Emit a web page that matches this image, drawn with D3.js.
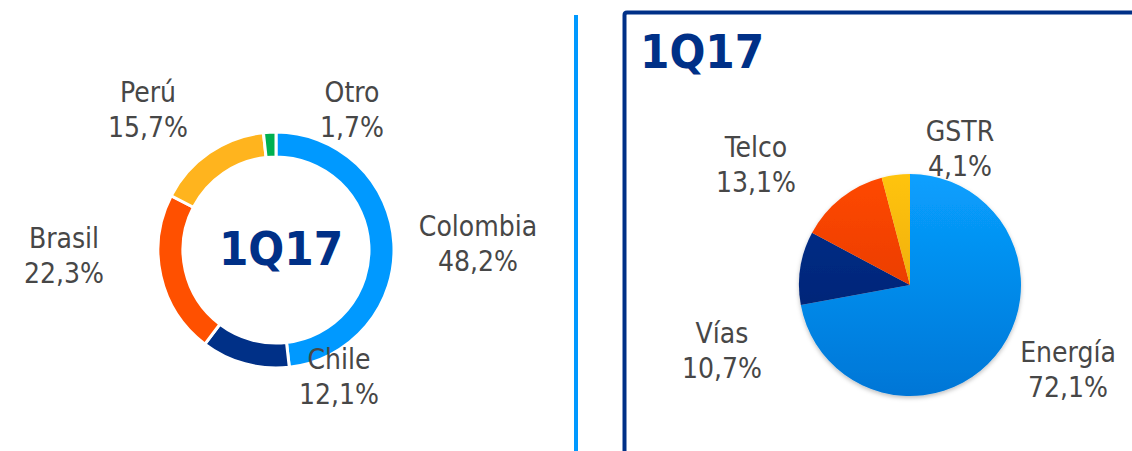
<!DOCTYPE html>
<html>
<head>
<meta charset="utf-8">
<script src="https://cdn.jsdelivr.net/npm/d3@7"></script>
<style>
  body { margin: 0; background: #fff; }
  text { font-family: "DejaVu Sans Condensed", "DejaVu Sans", Verdana, sans-serif; }
</style>
</head>
<body>
<div id="chart"></div>
<script>
// data
var period = "1Q17";

var countries = ["Colombia", "Chile", "Brasil", "Perú", "Otro"];
var countryShare = [48.2, 12.1, 22.3, 15.7, 1.7];
var countryColors = ["#0099ff", "#003087", "#ff5000", "#ffb41e", "#00b050"];

var businesses = ["Energía", "Vías", "Telco", "GSTR"];
var businessShare = [72.1, 10.7, 13.1, 4.1];
var businessTop = ["#08a0ff", "#00328e", "#ff4800", "#ffc40c"];
var businessBottom = ["#0076d6", "#001c6a", "#d83400", "#e29c00"];

var svgWidth = 1132;
var svgHeight = 451;

var svg = d3.select("#chart")
  .append("svg")
  .attr("width", svgWidth)
  .attr("height", svgHeight);

var fmt = function(v) { return d3.format(".1f")(v).replace(".", ",") + "%"; };

// separators / frame
svg.append("line")
  .attr("x1", 576).attr("x2", 576)
  .attr("y1", 15).attr("y2", svgHeight)
  .attr("stroke", "#0099ff")
  .attr("stroke-width", 4);

svg.append("path")
  .attr("d", "M624.5," + (svgHeight + 5) + " L624.5,15 Q624.5,12.5 627,12.5 L" + (svgWidth + 5) + ",12.5")
  .attr("fill", "none")
  .attr("stroke", "#003087")
  .attr("stroke-width", 4);

svg.append("text")
  .attr("x", 640)
  .attr("y", 68)
  .attr("font-size", 47)
  .attr("font-weight", "bold")
  .attr("fill", "#003087")
  .text(period);

// donut by country
var donut = svg.append("g").attr("transform", "translate(276,250)");

var pie = d3.pie().sort(null).value(d => d.value);
var countryData = countries.map((c, i) => ({ name: c, value: countryShare[i], color: countryColors[i] }));

var ringArc = d3.arc().innerRadius(93).outerRadius(118);

donut.selectAll("path")
  .data(pie(countryData))
  .enter()
  .append("path")
  .attr("d", ringArc)
  .attr("fill", d => d.data.color)
  .attr("stroke", "#fff")
  .attr("stroke-width", 3);

donut.append("text")
  .attr("x", 5)
  .attr("y", 15)
  .attr("text-anchor", "middle")
  .attr("font-size", 47)
  .attr("font-weight", "bold")
  .attr("fill", "#003087")
  .text(period);

// label spots (name baseline, value baseline)
var countryLabelPos = {
  "Colombia": [478, 236],
  "Chile": [339, 369],
  "Brasil": [64, 248],
  "Perú": [148, 102],
  "Otro": [352, 102]
};

function addLabel(g, x, y, name, value) {
  var t = g.append("text")
    .attr("text-anchor", "middle")
    .attr("font-size", 28)
    .attr("fill", "#474747");
  t.append("tspan").attr("x", x).attr("y", y).text(name);
  t.append("tspan").attr("x", x).attr("y", y + 35).text(fmt(value));
}

countryData.forEach(function(d) {
  var p = countryLabelPos[d.name];
  addLabel(svg, p[0], p[1], d.name, d.value);
});

// pie by business
var defs = svg.append("defs");

businesses.forEach(function(b, i) {
  var grad = defs.append("linearGradient")
    .attr("id", "grad" + i)
    .attr("gradientUnits", "userSpaceOnUse")
    .attr("x1", 0).attr("y1", -111)
    .attr("x2", 0).attr("y2", 111);
  grad.append("stop").attr("offset", "0%").attr("stop-color", businessTop[i]);
  grad.append("stop").attr("offset", "100%").attr("stop-color", businessBottom[i]);
});

var shadow = defs.append("filter").attr("id", "shadow")
  .attr("x", "-20%").attr("y", "-20%").attr("width", "140%").attr("height", "140%");
shadow.append("feDropShadow")
  .attr("dx", 0).attr("dy", 2)
  .attr("stdDeviation", 2)
  .attr("flood-color", "#000")
  .attr("flood-opacity", 0.25);

var businessData = businesses.map((b, i) => ({ name: b, value: businessShare[i], idx: i }));
var pieGroup = svg.append("g")
  .attr("transform", "translate(910,285)")
  .attr("filter", "url(#shadow)");

var pieArc = d3.arc().innerRadius(0).outerRadius(111);

pieGroup.selectAll("path")
  .data(pie(businessData))
  .enter()
  .append("path")
  .attr("d", pieArc)
  .attr("fill", d => "url(#grad" + d.data.idx + ")");

var businessLabelPos = {
  "Energía": [1068, 362],
  "Vías": [722, 343],
  "Telco": [756, 157],
  "GSTR": [960, 141]
};

businessData.forEach(function(d) {
  var p = businessLabelPos[d.name];
  addLabel(svg, p[0], p[1], d.name, d.value);
});
</script>
</body>
</html>
